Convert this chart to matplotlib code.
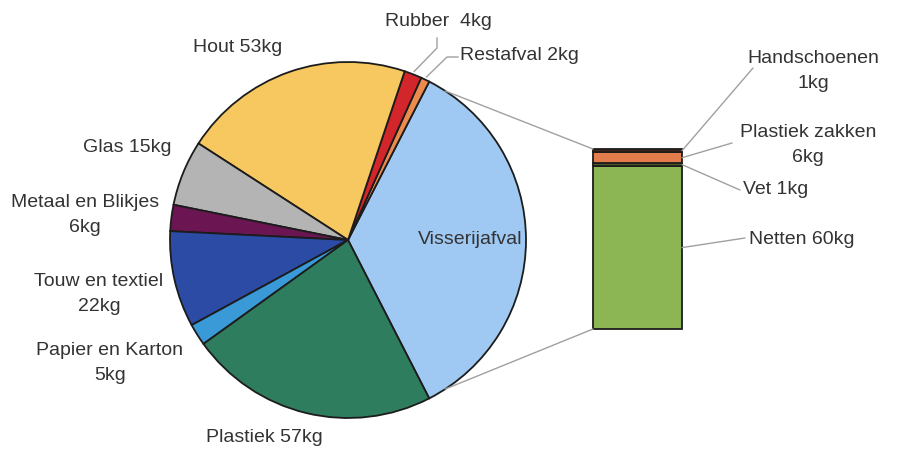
import numpy as np
import matplotlib
matplotlib.use("Agg")
import matplotlib.pyplot as plt
from matplotlib.patches import ConnectionPatch

plt.rcParams["font.family"] = ["Liberation Sans", "DejaVu Sans"]

# pie slices, counter-clockwise starting with the exploded slice
pie_labels = ["Visserijafval", "Restafval 2kg", "Rubber  4kg", "Hout 53kg", "Glas 15kg",
              "Metaal en Blikjes\n6kg", "Touw en textiel\n22kg", "Papier en Karton\n5kg",
              "Plastiek 57kg"]
pie_values = [88, 2, 4, 53, 15, 6, 22, 5, 57]
pie_colors = ["#9fc9f2", "#ec8b4e", "#d2262b", "#f6c85f", "#b4b4b4",
              "#6b1552", "#2c4ba4", "#3a9ad8", "#2f7d5f"]

# bar of the fishing waste, bottom to top
bar_labels = ["Netten 60kg", "Vet 1kg", "Plastiek zakken\n6kg", "Handschoenen\n1kg"]
bar_values = [61.5, 1.2, 4, 1.3]
bar_colors = ["#8cb654", "#4e5a22", "#e27c4b", "#4a2418"]

W, H = 898, 449
fig = plt.figure(figsize=(W / 100, H / 100), dpi=100)
ax = fig.add_axes([0, 0, 1, 1])

def px(x, y):
    # pixel coordinates (top-left origin) -> data coords
    return x, H - y

cx, cy = px(348, 240)
R = 178
start = -pie_values[0] / sum(pie_values) * 180
wedges, _ = ax.pie(pie_values, colors=pie_colors, startangle=start, counterclock=True,
                   radius=R, center=(cx, cy),
                   wedgeprops=dict(edgecolor="#1c1c1c", linewidth=1.3))
ax.set_xlim(0, W)
ax.set_ylim(0, H)
ax.set_aspect("equal")
ax.axis("off")

txt = dict(fontsize=14, color="#333333", ha="center", va="center", linespacing=1.65)

# label positions (pixels)
label_pos = {
    "Visserijafval": (470, 240),
    "Hout 53kg": (238, 47),
    "Rubber  4kg": (438, 22),
    "Restafval 2kg": (519, 56),
    "Glas 15kg": (127, 148),
    "Metaal en Blikjes\n6kg": (85, 215),
    "Touw en textiel\n22kg": (99, 294),
    "Papier en Karton\n5kg": (110, 363),
    "Plastiek 57kg": (264, 437),
}
for lab in pie_labels:
    ax.text(*px(*label_pos[lab]), lab, **txt)

# leader lines for the two thin slices
elbows = {"Rubber  4kg": [(437, 38), (437, 48)], "Restafval 2kg": [(458, 57), (447, 57)]}
for i, lab in enumerate(pie_labels):
    if lab not in elbows:
        continue
    w = wedges[i]
    mid = np.radians((w.theta1 + w.theta2) / 2)
    end = (cx + 181 * np.cos(mid), cy + 181 * np.sin(mid))
    pts = [px(*p) for p in elbows[lab]] + [end]
    ax.plot([p[0] for p in pts], [p[1] for p in pts], color="#a0a0a0", lw=1)

# bar
bx0, by0, bw, bh = 593, 149, 89, 180
ax2 = fig.add_axes([bx0 / W, (H - by0 - bh) / H, bw / W, bh / H])
bottoms = np.concatenate([[0], np.cumsum(bar_values)[:-1]])
bars = ax2.bar(0, bar_values, bottom=bottoms, width=1, color=bar_colors,
               edgecolor="#1c1c1c", linewidth=1.3, align="center")
for b in bars:
    b.set_clip_on(False)
ax2.set_xlim(-0.5, 0.5)
ax2.set_ylim(0, sum(bar_values))
ax2.axis("off")

# connectors pie -> bar
v = wedges[0]
for ang, yb in [(v.theta2 - 6, sum(bar_values)), (v.theta1 + 6, 0)]:
    a = np.radians(ang)
    con = ConnectionPatch(xyA=(cx + R * np.cos(a), cy + R * np.sin(a)), coordsA=ax.transData,
                          xyB=(-0.5, yb), coordsB=ax2.transData, color="#a0a0a0", lw=1)
    fig.add_artist(con)

# bar labels with leader lines
bar_label_pos = {"Netten 60kg": (802, 240), "Vet 1kg": (776, 190),
                 "Plastiek zakken\n6kg": (808, 145), "Handschoenen\n1kg": (813, 71)}
bar_line_start = {"Netten 60kg": (745, 238), "Vet 1kg": (740, 190),
                  "Plastiek zakken\n6kg": (732, 143), "Handschoenen\n1kg": (753, 68)}
for lab, val, bot in zip(bar_labels, bar_values, bottoms):
    ax.text(*px(*bar_label_pos[lab]), lab, **txt)
    con = ConnectionPatch(xyA=px(*bar_line_start[lab]), coordsA=ax.transData,
                          xyB=(0.5, bot + val / 2), coordsB=ax2.transData,
                          color="#a0a0a0", lw=1)
    fig.add_artist(con)

fig.savefig("out.png", dpi=100)
